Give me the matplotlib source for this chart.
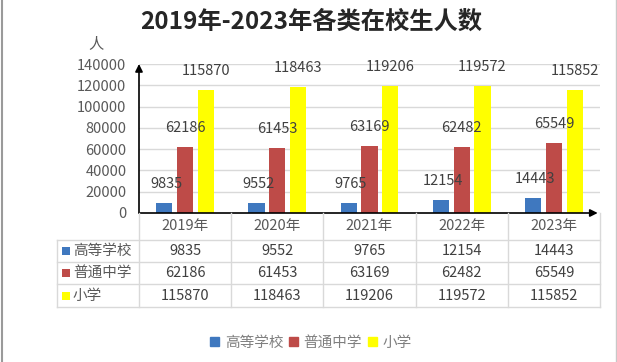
import matplotlib
matplotlib.use("Agg")
import matplotlib.pyplot as plt
import matplotlib.transforms as mtransforms
from matplotlib.patches import Patch, Rectangle
from matplotlib.lines import Line2D
import numpy as np

plt.rcParams['font.family'] = ['Noto Sans CJK SC', 'DejaVu Sans']

# data
years = ["2019年", "2020年", "2021年", "2022年", "2023年"]
series_names = ["高等学校", "普通中学", "小学"]
higher_edu = [9835, 9552, 9765, 12154, 14443]
middle_school = [62186, 61453, 63169, 62482, 65549]
primary_school = [115870, 118463, 119206, 119572, 115852]
series_values = [higher_edu, middle_school, primary_school]
colors = ["#3F78BF", "#BE4B48", "#FFFF00"]
yticks = [0, 20000, 40000, 60000, 80000, 100000, 120000, 140000]

W, H = 617, 362
fig = plt.figure(figsize=(W / 100, H / 100), dpi=100)

def fx(x):
    return x / W

def fy(y):
    return 1 - y / H

# plot area
left, right, top, bottom = 139, 600, 64, 213
ax = fig.add_axes([fx(left), fy(bottom), fx(right - left), (bottom - top) / H])

x = np.arange(len(years))
width = 0.175
offsets = [-0.225, 0, 0.225]
label_dx = [2, 0, 0]
for vals, off, c, name, dx in zip(series_values, offsets, colors, series_names, label_dx):
    ax.bar(x + off, vals, width, color=c, label=name, zorder=3)
    for xi, v in zip(x, vals):
        ax.annotate(str(v), (xi + off, v), xytext=(dx, 19), textcoords="offset pixels",
                    ha="center", va="center", fontsize=10.5, color="#404040", zorder=4)

ax.set_xlim(-0.5, len(years) - 0.5)
ax.set_ylim(0, 140000)
ax.set_yticks(yticks)
ax.set_yticklabels([str(t) for t in yticks], fontsize=10.5, color="#595959")
ax.tick_params(axis="y", length=0, pad=9)
ax.set_xticks([])
ax.grid(axis="y", color="#D9D9D9", linewidth=1, zorder=0)
for s in ax.spines.values():
    s.set_visible(False)

# axes with arrows
ax.annotate("", xy=(0, 1.0), xytext=(0, 0), xycoords="axes fraction",
            arrowprops=dict(arrowstyle="-|>", color="black", lw=1.2, mutation_scale=11,
                            shrinkA=0, shrinkB=0), annotation_clip=False)
ax.annotate("", xy=(0.995, 0), xytext=(0, 0), xycoords="axes fraction",
            arrowprops=dict(arrowstyle="-|>", color="black", lw=1.2, mutation_scale=11,
                            shrinkA=0, shrinkB=0), annotation_clip=False)

# title and unit
fig.text(fx(311), fy(22), "2019年-2023年各类在校生人数", ha="center", va="center",
         fontsize=17.5, fontweight="bold", color="#262626")
fig.text(fx(96), fy(44), "人", ha="center", va="center", fontsize=11, color="#595959")

# data table under the axis
grid_c = "#D9D9D9"
table_left = 57
row_lines = [240, 262, 284, 307]
row_text_y = [251, 273, 296]
col_tf = mtransforms.blended_transform_factory(ax.transData, fig.transFigure)
col_edges = np.arange(len(years) + 1) - 0.5
for ce in col_edges:
    fig.add_artist(Line2D([ce, ce], [fy(bottom), fy(row_lines[-1])], transform=col_tf,
                          color=grid_c, lw=1))
for ry in row_lines:
    fig.add_artist(Line2D([fx(table_left), fx(right)], [fy(ry), fy(ry)], color=grid_c, lw=1))
fig.add_artist(Line2D([fx(table_left), fx(table_left)], [fy(row_lines[0]), fy(row_lines[-1])],
                      color=grid_c, lw=1))
for xi, yr in zip(x, years):
    fig.text(xi, fy(226), yr, transform=col_tf, ha="center", va="center",
             fontsize=10.5, color="#595959")
for ty, name, c, vals in zip(row_text_y, series_names, colors, series_values):
    fig.add_artist(Rectangle((fx(62), fy(ty + 4)), fx(8), 8 / H, color=c, lw=0))
    fig.text(fx(73), fy(ty), name, ha="left", va="center", fontsize=10.5, color="#595959")
    for xi, v in zip(x, vals):
        fig.text(xi, fy(ty), str(v), transform=col_tf, ha="center", va="center",
                 fontsize=10.5, color="#404040")

# legend
handles = [Patch(color=c, label=n) for c, n in zip(colors, series_names)]
fig.legend(handles=handles, loc="center", bbox_to_anchor=(fx(311), fy(343)), ncol=3,
           frameon=False, fontsize=10.5, labelcolor="#7F7F7F", handlelength=0.6,
           handleheight=0.6, handletextpad=0.4, columnspacing=0.4)

# outer frame sides
fig.add_artist(Line2D([fx(1.5), fx(1.5)], [0, 1], color="#9A9A9A", lw=1.5))
fig.add_artist(Line2D([fx(615.5), fx(615.5)], [0, 1], color="#C8C8C8", lw=1))

fig.savefig("out.png", dpi=100)
